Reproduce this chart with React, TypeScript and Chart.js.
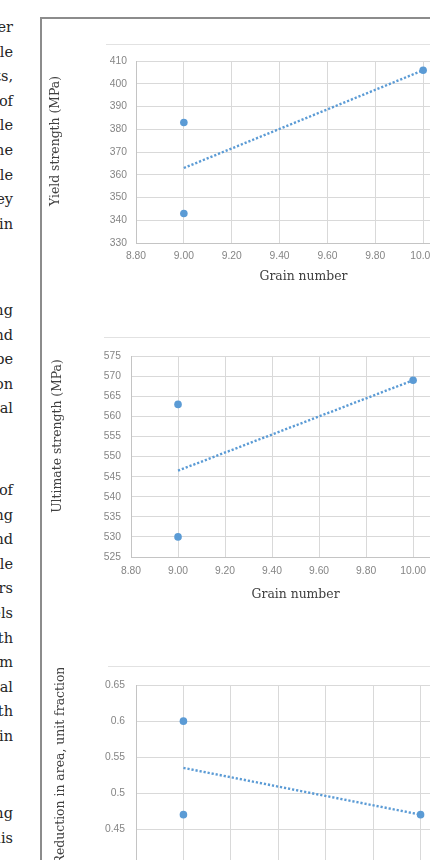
import React, { useEffect, useRef } from "react";
import { Chart, registerables } from "chart.js";

Chart.register(...registerables);

// ---- data ----
const grainNumber = [9.0, 9.0, 10.0];
const yieldStrength = [383, 343, 406];
const ultimateStrength = [563, 530, 569];
const reductionInArea = [0.6, 0.47, 0.47];

const trendGrain = [9.0, 10.0];
const yieldTrend = [363, 406];
const ultimateTrend = [546.5, 569];
const reductionTrend = [0.535, 0.47];

const grainTicks = [8.8, 9.0, 9.2, 9.4, 9.6, 9.8, 10.0, 10.2];
const yieldTicks = [330, 340, 350, 360, 370, 380, 390, 400, 410];
const ultimateTicks = [525, 530, 535, 540, 545, 550, 555, 560, 565, 570, 575];
const reductionTicks = [0.4, 0.45, 0.5, 0.55, 0.6, 0.65];

// fragments of the neighbouring text column (cut off by the page edge)
const para1 = ["other", "while", "results,", "of", "while", "the", "while", "they", "in"];
const para2 = ["using", "and", "be", "on", "final"];
const para3 = ["of", "testing", "and", "while", "others", "levels", "with", "from", "final", "with", "in"];
const para4 = ["using", "this"];

const BLUE = "#5b9bd5";
const SERIF = '"DejaVu Serif", serif';
const SANS = '"Liberation Sans", Arial, sans-serif';
const TITLE_SIZE = 12.4;

const yTitlePlugin = {
  id: "yTitle",
  afterDraw(chart: any, _args: any, opts: any) {
    const { ctx } = chart;
    ctx.save();
    ctx.translate(opts.x, opts.y);
    ctx.rotate(-Math.PI / 2);
    ctx.font = `${opts.size}px ${SERIF}`;
    ctx.fillStyle = opts.color;
    ctx.textAlign = "center";
    ctx.textBaseline = "middle";
    ctx.fillText(opts.text, 0, 0);
    ctx.restore();
  },
};

type Geo = {
  left: number;
  top: number;
  width: number;
  height: number;
  padTop: number;
  padRight: number;
  yWidth: number;
  xHeight: number;
  yTickPad: number;
  xTickPad: number;
  yTitleX: number;
  yTitleY: number;
};

type Props = {
  geo: Geo;
  xs: number[];
  ys: number[];
  trendX: number[];
  trendY: number[];
  yTicks: number[];
  yTitle: string;
  yFormat: (v: number) => string;
};

function ScatterChart({ geo, xs, ys, trendX, trendY, yTicks, yTitle, yFormat }: Props) {
  const ref = useRef<HTMLCanvasElement | null>(null);
  useEffect(() => {
    if (!ref.current) return;
    const chart = new Chart(ref.current, {
      type: "scatter",
      data: {
        datasets: [
          {
            label: "trend",
            data: trendX.map((x, i) => ({ x, y: trendY[i] })),
            showLine: true,
            borderColor: BLUE,
            borderWidth: 2.4,
            borderDash: [2.2, 1.9],
            pointRadius: 0,
            fill: false,
          },
          {
            label: "data",
            data: xs.map((x, i) => ({ x, y: ys[i] })),
            backgroundColor: BLUE,
            borderColor: BLUE,
            pointRadius: 3.8,
            borderWidth: 0,
          },
        ],
      },
      options: {
        animation: false,
        responsive: false,
        maintainAspectRatio: false,
        layout: { padding: { left: 0, top: geo.padTop, right: geo.padRight, bottom: 0 } },
        plugins: {
          legend: { display: false },
          tooltip: { enabled: false },
          yTitle: { text: yTitle, x: geo.yTitleX, y: geo.yTitleY, size: TITLE_SIZE, color: "#404040" },
        } as any,
        scales: {
          x: {
            type: "linear",
            min: grainTicks[0],
            max: grainTicks[grainTicks.length - 1],
            afterBuildTicks: (s: any) => {
              s.ticks = grainTicks.map((v) => ({ value: v }));
            },
            afterFit: (s: any) => {
              s.height = geo.xHeight;
            },
            grid: { color: "#d9d9d9", drawTicks: false },
            border: { color: "#c4c4c4" },
            ticks: {
              padding: geo.xTickPad,
              color: "#858585",
              font: { family: SANS, size: 10.3 },
              callback: (v: any) => Number(v).toFixed(2),
              maxRotation: 0,
              autoSkip: false,
            },
            title: {
              display: true,
              text: "Grain number",
              color: "#404040",
              font: { family: SERIF, size: TITLE_SIZE },
              padding: 0,
            },
          },
          y: {
            type: "linear",
            min: yTicks[0],
            max: yTicks[yTicks.length - 1],
            afterBuildTicks: (s: any) => {
              s.ticks = yTicks.map((v) => ({ value: v }));
            },
            afterFit: (s: any) => {
              s.width = geo.yWidth;
            },
            grid: { color: "#d9d9d9", drawTicks: false },
            border: { color: "#c4c4c4" },
            ticks: {
              padding: geo.yTickPad,
              color: "#858585",
              font: { family: SANS, size: 10.3 },
              callback: (v: any) => yFormat(Number(v)),
              autoSkip: false,
            },
          },
        },
      },
      plugins: [yTitlePlugin],
    } as any);
    return () => chart.destroy();
  }, []);
  return (
    <canvas
      ref={ref}
      width={geo.width}
      height={geo.height}
      style={{ position: "absolute", left: geo.left, top: geo.top, width: geo.width, height: geo.height, display: "block" }}
    />
  );
}

const geo1: Geo = {
  left: 42, top: 46, width: 449, height: 238, padTop: 11, padRight: 20,
  yWidth: 94, xHeight: 41, yTickPad: 9, xTickPad: 7, yTitleX: 14, yTitleY: 95,
};
const geo2: Geo = {
  left: 42, top: 340, width: 439, height: 262, padTop: 11, padRight: 20,
  yWidth: 89, xHeight: 45, yTickPad: 10, xTickPad: 8, yTitleX: 16, yTitleY: 96,
};
const geo3: Geo = {
  left: 42, top: 668, width: 446, height: 238, padTop: 9, padRight: 20,
  yWidth: 94, xHeight: 41, yTickPad: 11, xTickPad: 7, yTitleX: 19, yTitleY: 97.5,
};

function Para({ lines, top }: { lines: string[]; top: number }) {
  return (
    <div
      style={{
        position: "absolute",
        right: 430 - 13,
        top,
        textAlign: "right",
        whiteSpace: "nowrap",
        fontFamily: SERIF,
        fontSize: 14.5,
        lineHeight: "24.6px",
        color: "#262626",
      }}
    >
      {lines.map((l, i) => (
        <div key={i}>{l}</div>
      ))}
    </div>
  );
}

export default function App() {
  return (
    <div
      style={{
        position: "fixed",
        left: 0,
        top: 0,
        width: 430,
        height: 860,
        overflow: "hidden",
        background: "#ffffff",
      }}
    >
      <Para lines={para1} top={15} />
      <Para lines={para2} top={298} />
      <Para lines={para3} top={478} />
      <Para lines={para4} top={801} />
      {/* figure box */}
      <div
        style={{
          position: "absolute",
          left: 40,
          top: 17,
          width: 600,
          height: 1000,
          borderLeft: "2px solid #8c8c8c",
          borderTop: "2px solid #8c8c8c",
          boxSizing: "border-box",
        }}
      />
      <div style={{ position: "absolute", left: 106, top: 44, width: 330, height: 1, background: "#e2e2e2" }} />
      <div style={{ position: "absolute", left: 104, top: 337, width: 330, height: 1, background: "#e2e2e2" }} />
      <div style={{ position: "absolute", left: 108, top: 666, width: 330, height: 1, background: "#e2e2e2" }} />
      <ScatterChart
        geo={geo1}
        xs={grainNumber}
        ys={yieldStrength}
        trendX={trendGrain}
        trendY={yieldTrend}
        yTicks={yieldTicks}
        yTitle="Yield strength (MPa)"
        yFormat={(v) => String(Math.round(v))}
      />
      <ScatterChart
        geo={geo2}
        xs={grainNumber}
        ys={ultimateStrength}
        trendX={trendGrain}
        trendY={ultimateTrend}
        yTicks={ultimateTicks}
        yTitle="Ultimate strength (MPa)"
        yFormat={(v) => String(Math.round(v))}
      />
      <ScatterChart
        geo={geo3}
        xs={grainNumber}
        ys={reductionInArea}
        trendX={trendGrain}
        trendY={reductionTrend}
        yTicks={reductionTicks}
        yTitle="Reduction in area, unit fraction"
        yFormat={(v) => String(Number(v.toFixed(2)))}
      />
    </div>
  );
}
